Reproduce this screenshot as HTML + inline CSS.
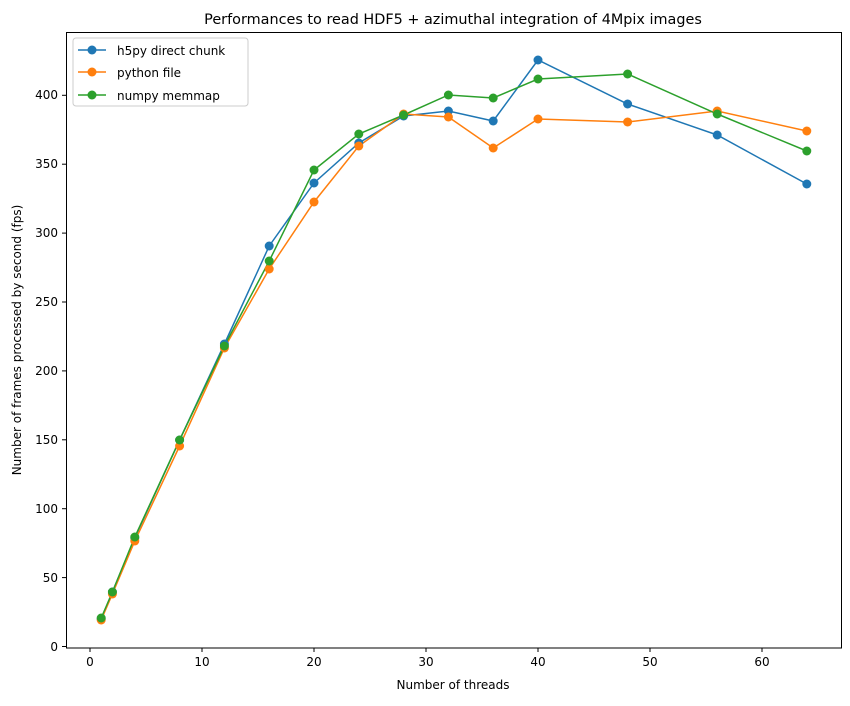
<!DOCTYPE html><html><head><style>body{margin:0;background:#fff}</style></head><body>
<svg width="850" height="701" xmlns="http://www.w3.org/2000/svg" font-family="DejaVu Sans, Liberation Sans, sans-serif" font-size="12">
<rect width="850" height="701" fill="#fff"/>
<text x="453" y="24" text-anchor="middle" font-size="14.4">Performances to read HDF5 + azimuthal integration of 4Mpix images</text>
<g stroke="#000" stroke-width="1">
<line x1="90" y1="648" x2="90" y2="652"/><line x1="202" y1="648" x2="202" y2="652"/><line x1="314" y1="648" x2="314" y2="652"/><line x1="426" y1="648" x2="426" y2="652"/><line x1="538" y1="648" x2="538" y2="652"/><line x1="650" y1="648" x2="650" y2="652"/><line x1="762" y1="648" x2="762" y2="652"/>
<line x1="62" y1="646.5" x2="66.5" y2="646.5"/><line x1="62" y1="577.6" x2="66.5" y2="577.6"/><line x1="62" y1="508.7" x2="66.5" y2="508.7"/><line x1="62" y1="439.8" x2="66.5" y2="439.8"/><line x1="62" y1="370.9" x2="66.5" y2="370.9"/><line x1="62" y1="302" x2="66.5" y2="302"/><line x1="62" y1="233.1" x2="66.5" y2="233.1"/><line x1="62" y1="164.2" x2="66.5" y2="164.2"/><line x1="62" y1="95.3" x2="66.5" y2="95.3"/>
</g>
<g text-anchor="middle"><text x="90" y="666">0</text><text x="202" y="666">10</text><text x="314" y="666">20</text><text x="426" y="666">30</text><text x="538" y="666">40</text><text x="650" y="666">50</text><text x="762" y="666">60</text></g>
<g text-anchor="end"><text x="58" y="651">0</text><text x="58" y="582">50</text><text x="58" y="513">100</text><text x="58" y="444">150</text><text x="58" y="375">200</text><text x="58" y="306">250</text><text x="58" y="237">300</text><text x="58" y="168">350</text><text x="58" y="99">400</text></g>
<text x="453" y="689" text-anchor="middle">Number of threads</text>
<text transform="translate(21,340) rotate(-90)" text-anchor="middle">Number of frames processed by second (fps)</text>
<g fill="none" stroke-width="1.5">
<polyline stroke="#1f77b4" points="101.2,619 112.4,592 134.8,538 179.6,440 224.4,344 269.2,246 314,183 358.8,143 403.6,116 448.4,111 493.2,121 538,60 627.6,104 717.2,135 806.8,184"/>
<polyline stroke="#ff7f0e" points="101.2,620 112.4,594 134.8,541 179.6,446 224.4,348 269.2,269 314,202 358.8,146 403.6,114 448.4,117 493.2,148 538,119 627.6,122 717.2,111 806.8,131"/>
<polyline stroke="#2ca02c" points="101.2,618 112.4,592 134.8,537 179.6,440 224.4,346 269.2,261 314,170 358.8,134 403.6,115 448.4,95 493.2,98 538,79 627.6,74 717.2,114 806.8,151"/>
</g>
<g fill="#1f77b4"><circle cx="101.2" cy="619" r="4.5"/><circle cx="112.4" cy="592" r="4.5"/><circle cx="134.8" cy="538" r="4.5"/><circle cx="179.6" cy="440" r="4.5"/><circle cx="224.4" cy="344" r="4.5"/><circle cx="269.2" cy="246" r="4.5"/><circle cx="314" cy="183" r="4.5"/><circle cx="358.8" cy="143" r="4.5"/><circle cx="403.6" cy="116" r="4.5"/><circle cx="448.4" cy="111" r="4.5"/><circle cx="493.2" cy="121" r="4.5"/><circle cx="538" cy="60" r="4.5"/><circle cx="627.6" cy="104" r="4.5"/><circle cx="717.2" cy="135" r="4.5"/><circle cx="806.8" cy="184" r="4.5"/></g>
<g fill="#ff7f0e"><circle cx="101.2" cy="620" r="4.5"/><circle cx="112.4" cy="594" r="4.5"/><circle cx="134.8" cy="541" r="4.5"/><circle cx="179.6" cy="446" r="4.5"/><circle cx="224.4" cy="348" r="4.5"/><circle cx="269.2" cy="269" r="4.5"/><circle cx="314" cy="202" r="4.5"/><circle cx="358.8" cy="146" r="4.5"/><circle cx="403.6" cy="114" r="4.5"/><circle cx="448.4" cy="117" r="4.5"/><circle cx="493.2" cy="148" r="4.5"/><circle cx="538" cy="119" r="4.5"/><circle cx="627.6" cy="122" r="4.5"/><circle cx="717.2" cy="111" r="4.5"/><circle cx="806.8" cy="131" r="4.5"/></g>
<g fill="#2ca02c"><circle cx="101.2" cy="618" r="4.5"/><circle cx="112.4" cy="592" r="4.5"/><circle cx="134.8" cy="537" r="4.5"/><circle cx="179.6" cy="440" r="4.5"/><circle cx="224.4" cy="346" r="4.5"/><circle cx="269.2" cy="261" r="4.5"/><circle cx="314" cy="170" r="4.5"/><circle cx="358.8" cy="134" r="4.5"/><circle cx="403.6" cy="115" r="4.5"/><circle cx="448.4" cy="95" r="4.5"/><circle cx="493.2" cy="98" r="4.5"/><circle cx="538" cy="79" r="4.5"/><circle cx="627.6" cy="74" r="4.5"/><circle cx="717.2" cy="114" r="4.5"/><circle cx="806.8" cy="151" r="4.5"/></g>
<rect x="66.5" y="32.5" width="775" height="615.5" fill="none" stroke="#000" stroke-width="1"/>
<rect x="73" y="38" width="175" height="68" rx="3" fill="#fff" fill-opacity="0.8" stroke="#ccc"/>
<g stroke-width="1.5"><line x1="78" y1="50" x2="106" y2="50" stroke="#1f77b4"/><line x1="78" y1="72" x2="106" y2="72" stroke="#ff7f0e"/><line x1="78" y1="95" x2="106" y2="95" stroke="#2ca02c"/></g>
<circle cx="92" cy="50" r="4.5" fill="#1f77b4"/><circle cx="92" cy="72" r="4.5" fill="#ff7f0e"/><circle cx="92" cy="95" r="4.5" fill="#2ca02c"/>
<text x="117" y="55">h5py direct chunk</text><text x="117" y="77">python file</text><text x="117" y="100">numpy memmap</text>
</svg></body></html>
